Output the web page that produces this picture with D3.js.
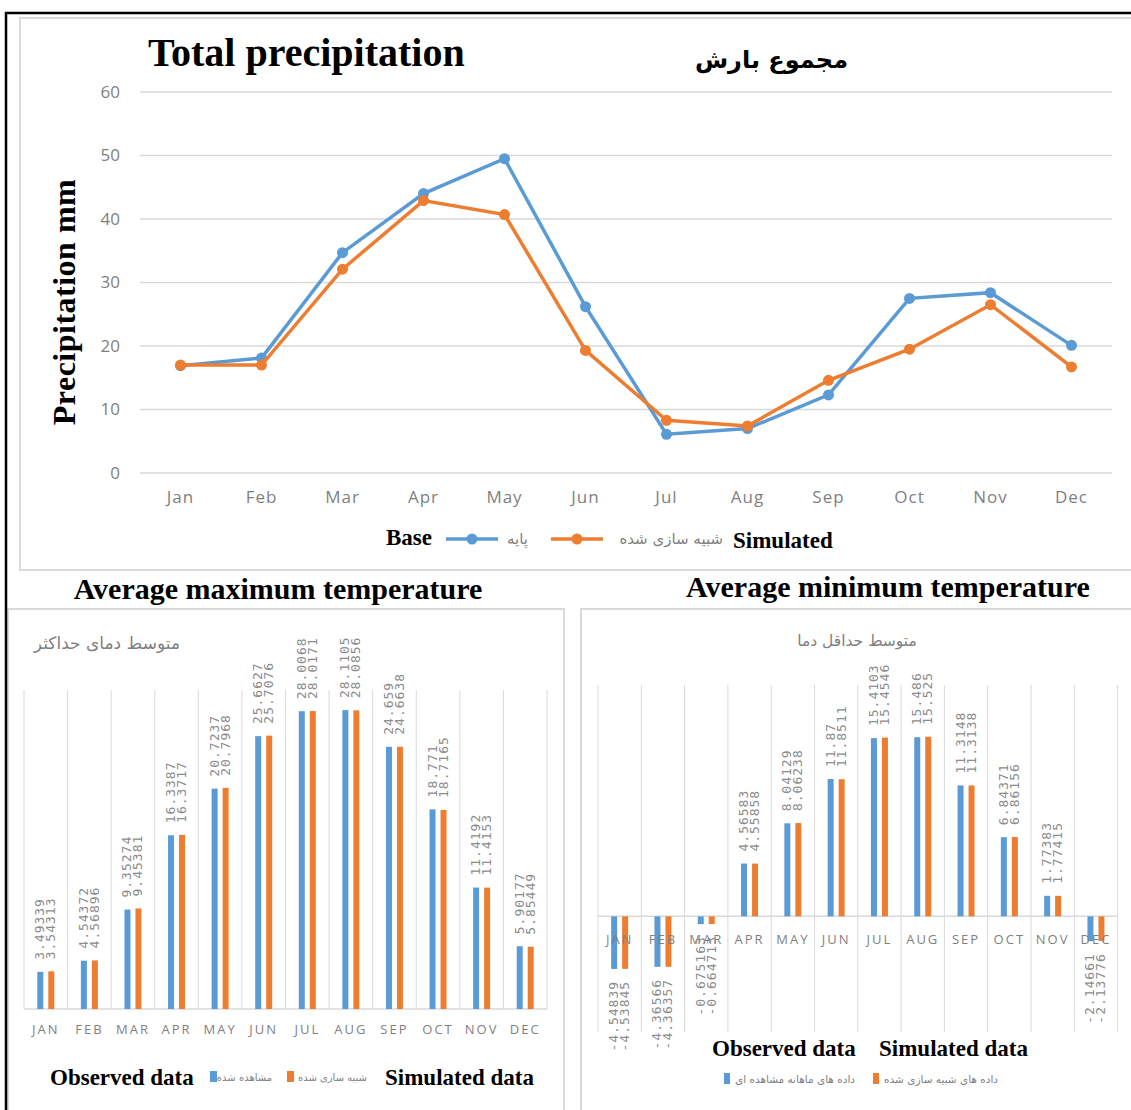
<!DOCTYPE html>
<html>
<head>
<meta charset="utf-8">
<script src="https://cdn.jsdelivr.net/npm/d3@7"></script>
<style>
  body { margin: 0; background: #fff; }
  svg { display: block; }
  .serif { font-family: "Liberation Serif", "Times New Roman", serif; font-weight: bold; fill: #000; }
  .fa { font-family: "DejaVu Sans", sans-serif; }
  .tick text { font-family: "Open Sans", sans-serif; fill: #7f7f7f; }
  .val { font-family: "DejaVu Sans Mono", monospace; font-size: 13px; fill: #8c8c8c; letter-spacing: 1px; }
</style>
</head>
<body>
<svg width="1131" height="1110"></svg>
<script>
// data
var months = ["Jan", "Feb", "Mar", "Apr", "May", "Jun", "Jul", "Aug", "Sep", "Oct", "Nov", "Dec"];
var monthsUpper = ["JAN", "FEB", "MAR", "APR", "MAY", "JUN", "JUL", "AUG", "SEP", "OCT", "NOV", "DEC"];
var precipTicks = [0, 10, 20, 30, 40, 50, 60];
var precipBase = [16.9, 18.1, 34.7, 44.0, 49.5, 26.2, 6.1, 7.0, 12.3, 27.5, 28.4, 20.1];
var precipSim = [17.0, 17.0, 32.1, 42.9, 40.7, 19.3, 8.3, 7.4, 14.6, 19.5, 26.5, 16.7];
var tmaxObs = [3.49339, 4.54372, 9.35274, 16.3387, 20.7237, 25.6627, 28.0068, 28.1105, 24.659, 18.771, 11.4192, 5.90177];
var tmaxSim = [3.54313, 4.56896, 9.45381, 16.3717, 20.7968, 25.7076, 28.0171, 28.0856, 24.6638, 18.7165, 11.4153, 5.85449];
var tminObs = [-4.54839, -4.36566, -0.675163, 4.56583, 8.04129, 11.87, 15.4103, 15.486, 11.3148, 6.84371, 1.77383, -2.14661];
var tminSim = [-4.53845, -4.36357, -0.664713, 4.55858, 8.06238, 11.8511, 15.4546, 15.525, 11.3138, 6.86156, 1.77415, -2.13776];

var blue = "#5b9bd5", orange = "#ed7d31", grid = "#d9d9d9";
var svg = d3.select("svg");

// panel frames
svg.append("rect").attr("x", 20).attr("y", 18).attr("width", 1130).attr("height", 552)
  .attr("fill", "none").attr("stroke", "#d9d9d9").attr("stroke-width", 2);
svg.append("rect").attr("x", 8).attr("y", 609).attr("width", 556).attr("height", 520)
  .attr("fill", "none").attr("stroke", "#d9d9d9").attr("stroke-width", 2);
svg.append("rect").attr("x", 581).attr("y", 609).attr("width", 560).attr("height", 520)
  .attr("fill", "none").attr("stroke", "#d9d9d9").attr("stroke-width", 2);
svg.append("path").attr("d", "M6,1110V13H1131").attr("fill", "none").attr("stroke", "#000").attr("stroke-width", 2.5);

// ---------- Total precipitation ----------
var x = d3.scaleBand().domain(months).range([140, 1112]);
var y = d3.scaleLinear().domain([0, 60]).range([473, 92]);

svg.append("text").attr("class", "serif").attr("x", 148).attr("y", 66)
  .style("font-size", "40px").text("Total precipitation");
svg.append("text").attr("class", "fa").attr("x", 848).attr("y", 68)
  .attr("text-anchor", "end").style("font-size", "24px").style("font-weight", "bold")
  .text("مجموع بارش");
svg.append("text").attr("class", "serif")
  .attr("transform", "translate(75,302) rotate(-90)").attr("text-anchor", "middle")
  .style("font-size", "32px").style("letter-spacing", "0.5px").text("Precipitation mm");

svg.append("g").selectAll("line").data(precipTicks).enter().append("line")
  .attr("x1", 140).attr("x2", 1112)
  .attr("y1", d => y(d)).attr("y2", d => y(d))
  .attr("stroke", grid).attr("stroke-width", 1.5);

svg.append("g").attr("transform", "translate(128,0)")
  .call(d3.axisLeft(y).tickValues(precipTicks).tickSize(0).tickPadding(8))
  .call(g => g.select(".domain").remove())
  .selectAll("text").style("font-size", "17px");

svg.append("g").attr("transform", "translate(0,489)")
  .call(d3.axisBottom(x).tickSize(0).tickPadding(2))
  .call(g => g.select(".domain").remove())
  .selectAll("text").style("font-size", "17px").style("letter-spacing", "1px");

var line = d3.line().x((d, i) => x(months[i]) + x.bandwidth() / 2).y(d => y(d));
[[precipBase, blue], [precipSim, orange]].forEach(function (s) {
  svg.append("path").datum(s[0]).attr("d", line)
    .attr("fill", "none").attr("stroke", s[1]).attr("stroke-width", 3.5);
  svg.append("g").selectAll("circle").data(s[0]).enter().append("circle")
    .attr("cx", (d, i) => x(months[i]) + x.bandwidth() / 2)
    .attr("cy", d => y(d)).attr("r", 5.5).attr("fill", s[1]);
});

// legend
var lg = svg.append("g");
lg.append("text").attr("class", "serif").attr("x", 386).attr("y", 545).style("font-size", "23px").text("Base");
[[446, blue, "پایه", 528], [551, orange, "شبیه سازی شده", 723]].forEach(function (l) {
  lg.append("line").attr("x1", l[0]).attr("x2", l[0] + 52).attr("y1", 539).attr("y2", 539)
    .attr("stroke", l[1]).attr("stroke-width", 3.5);
  lg.append("circle").attr("cx", l[0] + 26).attr("cy", 539).attr("r", 5.5).attr("fill", l[1]);
  lg.append("text").attr("class", "fa").attr("x", l[3]).attr("y", 544).attr("text-anchor", "end")
    .style("font-size", "15px").style("fill", "#7f7f7f").text(l[2]);
});
lg.append("text").attr("class", "serif").attr("x", 733).attr("y", 548).style("font-size", "23px").text("Simulated");

// ---------- grouped bar helper ----------
function barChart(o) {
  var x0 = d3.scaleBand().domain(months).range([o.left, o.right]);
  var x1 = d3.scaleBand().domain(["obs", "sim"]).range([-11, 11]);
  var yy = d3.scaleLinear().domain(o.domain).range([o.bottom, o.top]);
  var g = svg.append("g");

  g.selectAll(".vgrid").data(d3.range(months.length + 1)).enter().append("line")
    .attr("x1", i => o.left + i * x0.step()).attr("x2", i => o.left + i * x0.step())
    .attr("y1", o.top).attr("y2", o.bottom)
    .attr("stroke", grid).attr("stroke-width", 1);
  g.append("line").attr("x1", o.left).attr("x2", o.right).attr("y1", yy(0)).attr("y2", yy(0))
    .attr("stroke", grid).attr("stroke-width", 1.5);

  var rows = [];
  months.forEach(function (m, i) {
    rows.push({ m: m, k: "obs", v: o.obs[i], c: blue });
    rows.push({ m: m, k: "sim", v: o.sim[i], c: orange });
  });
  var cx = d => x0(d.m) + x0.bandwidth() / 2 + x1(d.k) + x1.bandwidth() / 2;

  g.selectAll(".bar").data(rows).enter().append("rect")
    .attr("x", d => cx(d) - 3).attr("width", 6)
    .attr("y", d => yy(Math.max(0, d.v)))
    .attr("height", d => Math.abs(yy(d.v) - yy(0)))
    .attr("fill", d => d.c);

  g.append("g").attr("transform", "translate(0," + o.labelY + ")")
    .call(d3.axisBottom(x0).tickSize(0).tickPadding(0).tickFormat((d, i) => monthsUpper[i]))
    .call(a => a.select(".domain").remove())
    .selectAll("text").style("font-size", "13px").style("letter-spacing", "2px");

  g.selectAll(".val").data(rows).enter().append("text").attr("class", "val")
    .attr("transform", d => "translate(" + (cx(d) + 4) + "," + (d.v >= 0 ? yy(d.v) - 12 : yy(d.v) + 12) + ") rotate(-90)")
    .attr("text-anchor", d => d.v >= 0 ? "start" : "end")
    .text(d => d.v);
}

// ---------- Average maximum temperature ----------
svg.append("text").attr("class", "serif").attr("x", 278).attr("y", 599).attr("text-anchor", "middle")
  .style("font-size", "30px").text("Average maximum temperature");
svg.append("text").attr("class", "fa").attr("x", 180).attr("y", 649).attr("text-anchor", "end")
  .style("font-size", "17px").style("fill", "#7f7f7f").text("متوسط دمای حداکثر");
barChart({ left: 24, right: 547, top: 690, bottom: 1009, domain: [0, 30], obs: tmaxObs, sim: tmaxSim, labelY: 1025 });

svg.append("text").attr("class", "serif").attr("x", 50).attr("y", 1085).style("font-size", "23px").text("Observed data");
svg.append("rect").attr("x", 210).attr("y", 1071).attr("width", 7).attr("height", 11).attr("fill", blue);
svg.append("text").attr("class", "fa").attr("x", 272).attr("y", 1081).attr("text-anchor", "end")
  .style("font-size", "10px").style("fill", "#7f7f7f").text("مشاهده شده");
svg.append("rect").attr("x", 287).attr("y", 1071).attr("width", 7).attr("height", 11).attr("fill", orange);
svg.append("text").attr("class", "fa").attr("x", 367).attr("y", 1081).attr("text-anchor", "end")
  .style("font-size", "10px").style("fill", "#7f7f7f").text("شبیه سازی شده");
svg.append("text").attr("class", "serif").attr("x", 385).attr("y", 1085).style("font-size", "23px").text("Simulated data");

// ---------- Average minimum temperature ----------
svg.append("text").attr("class", "serif").attr("x", 888).attr("y", 597).attr("text-anchor", "middle")
  .style("font-size", "30px").text("Average minimum temperature");
svg.append("text").attr("class", "fa").attr("x", 857).attr("y", 646).attr("text-anchor", "middle")
  .style("font-size", "15.5px").style("fill", "#7f7f7f").text("متوسط حداقل دما");
barChart({ left: 598, right: 1117.6, top: 685, bottom: 1032, domain: [-10, 20], obs: tminObs, sim: tminSim, labelY: 935 });

svg.append("text").attr("class", "serif").attr("x", 712).attr("y", 1056).style("font-size", "23px").text("Observed data");
svg.append("text").attr("class", "serif").attr("x", 879).attr("y", 1056).style("font-size", "23px").text("Simulated data");
svg.append("rect").attr("x", 724).attr("y", 1073).attr("width", 6).attr("height", 11).attr("fill", blue);
svg.append("text").attr("class", "fa").attr("x", 855).attr("y", 1083).attr("text-anchor", "end")
  .style("font-size", "10.5px").style("fill", "#7f7f7f").text("داده های ماهانه مشاهده ای");
svg.append("rect").attr("x", 873).attr("y", 1073).attr("width", 6).attr("height", 11).attr("fill", orange);
svg.append("text").attr("class", "fa").attr("x", 998).attr("y", 1083).attr("text-anchor", "end")
  .style("font-size", "10.5px").style("fill", "#7f7f7f").text("داده های شبیه سازی شده");
</script>
</body>
</html>
